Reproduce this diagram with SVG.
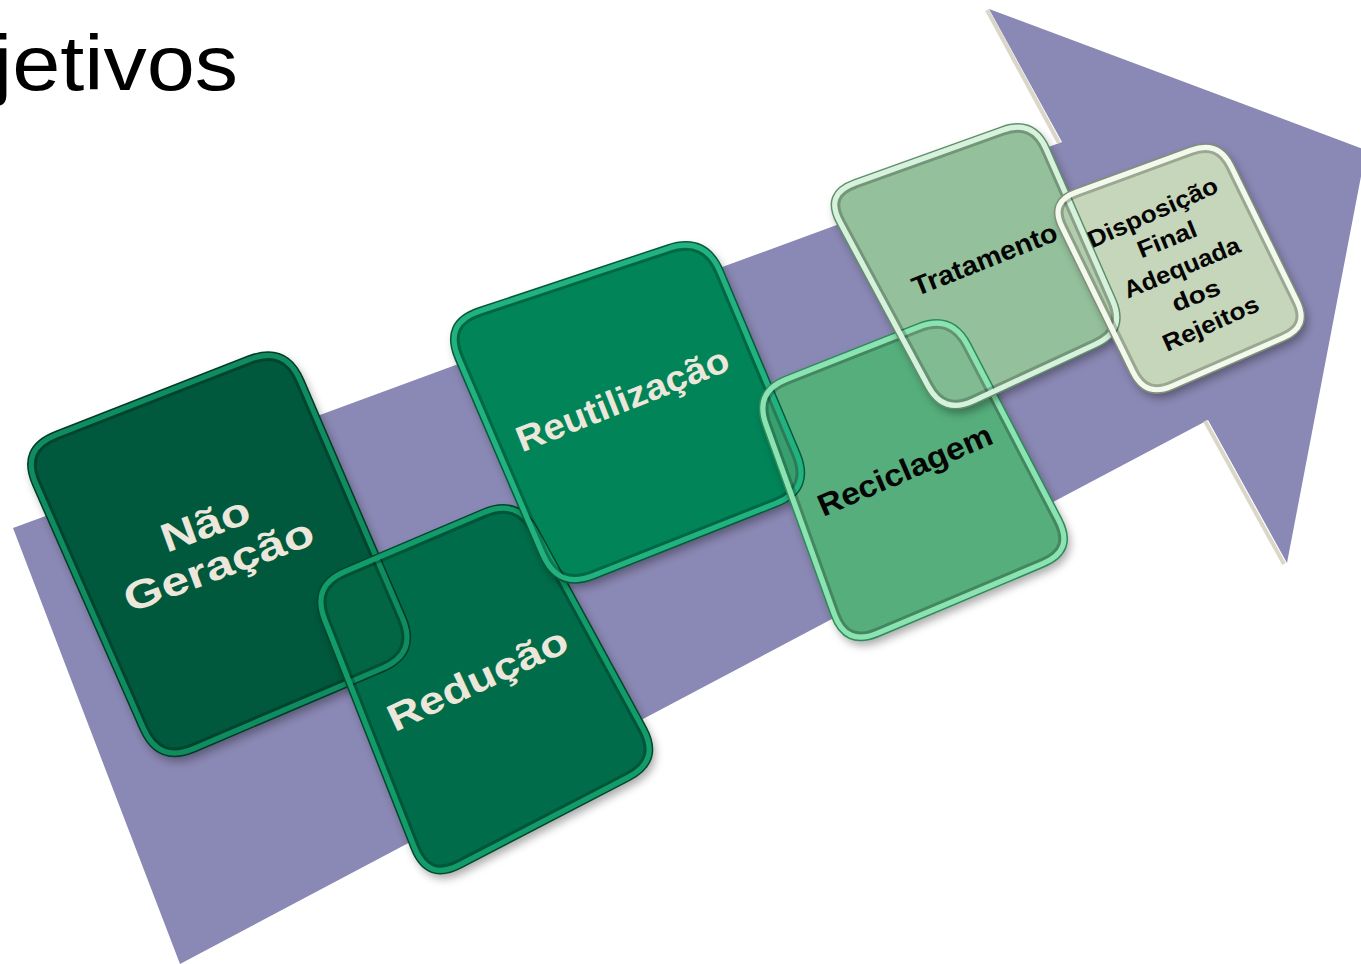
<svg xmlns="http://www.w3.org/2000/svg" xmlns:xlink="http://www.w3.org/1999/xlink" width="1361" height="964" viewBox="0 0 1361 964">
<style>
.t{font-family:"Liberation Sans",Arial,sans-serif;font-weight:bold;text-anchor:middle}
.lt{fill:#ECE7DA}
.bk{fill:#050505}
.sh{filter:url(#ds)}
.dl{fill:none;stroke:#000;stroke-opacity:.22;stroke-width:18}
.ol{fill:none;stroke-width:1.5}
.edge{stroke:#DAD6C8;stroke-width:4;fill:none}
</style>
<defs>
<filter id="ds" x="-15%" y="-15%" width="140%" height="140%"><feDropShadow dx="3" dy="5" stdDeviation="4" flood-color="#000" flood-opacity="0.33"/></filter>
<path id="p1" d="M55.1,431.7 L247.9,356.3 Q287,341 303.6,379.6 L405.4,616.4 Q422,655 383.4,671.5 L195.6,751.5 Q157,768 140.1,729.5 L32.9,485.5 Q16,447 55.1,431.7 Z"/>
<path id="p2" d="M343.8,568.4 L482.2,509.6 Q519,494 538.1,529.1 L645.9,726.9 Q665,762 629.5,780.4 L461.5,867.6 Q426,886 411.3,848.8 L321.7,621.2 Q307,584 343.8,568.4 Z"/>
<path id="p3" d="M478.9,307.8 L667.1,245.2 Q707,232 723.3,270.7 L799.7,452.3 Q816,491 777,506.5 L595,578.5 Q556,594 539.5,555.4 L455.5,359.6 Q439,321 478.9,307.8 Z"/>
<path id="p4" d="M785.4,376.1 L917.6,323.9 Q953,310 970.6,343.7 L1061.4,518.3 Q1079,552 1044,566.8 L879,636.2 Q844,651 831.1,615.2 L762.9,425.8 Q750,390 785.4,376.1 Z"/>
<path id="p5" d="M853.9,179.9 L1001.1,127.1 Q1035,115 1049.4,148 L1115.6,299 Q1130,332 1097.3,347.1 L974.7,403.9 Q942,419 925,387.3 L837,223.7 Q820,192 853.9,179.9 Z"/>
<path id="p6" d="M1075.1,189 L1189.9,147 Q1220,136 1234.1,164.7 L1299.9,299.3 Q1314,328 1284.7,340.8 L1173.3,389.2 Q1144,402 1129.9,373.3 L1059.1,228.7 Q1045,200 1075.1,189 Z"/>
<clipPath id="c1"><use href="#p1"/></clipPath>
<clipPath id="c2"><use href="#p2"/></clipPath>
<clipPath id="c3"><use href="#p3"/></clipPath>
<clipPath id="c4"><use href="#p4"/></clipPath>
<clipPath id="c5"><use href="#p5"/></clipPath>
<clipPath id="c6"><use href="#p6"/></clipPath>
<g id="r1"><use href="#p1" class="dl" clip-path="url(#c1)"/><use href="#p1" fill="none" stroke="#0F8D60" stroke-width="12" clip-path="url(#c1)"/><use href="#p1" class="ol" stroke="#033B27"/></g>
<g id="r2"><use href="#p2" class="dl" clip-path="url(#c2)"/><use href="#p2" fill="none" stroke="#129C6A" stroke-width="12" clip-path="url(#c2)"/><use href="#p2" class="ol" stroke="#04462F"/></g>
<g id="r3"><use href="#p3" class="dl" clip-path="url(#c3)"/><use href="#p3" fill="none" stroke="#22B27F" stroke-width="12" clip-path="url(#c3)"/><use href="#p3" class="ol" stroke="#055A3C"/></g>
<g id="r4"><use href="#p4" class="dl" clip-path="url(#c4)"/><use href="#p4" fill="none" stroke="#8BE3B2" stroke-width="12" clip-path="url(#c4)"/><use href="#p4" class="ol" stroke="#2F8A5A"/></g>
<g id="r5"><use href="#p5" class="dl" clip-path="url(#c5)"/><use href="#p5" fill="none" stroke="#D6F2DC" stroke-width="12" clip-path="url(#c5)"/><use href="#p5" class="ol" stroke="#5F8F6A"/></g>
<g id="r6"><use href="#p6" class="dl" clip-path="url(#c6)"/><use href="#p6" fill="none" stroke="#F4F9EE" stroke-width="12" clip-path="url(#c6)"/><use href="#p6" class="ol" stroke="#7F8F78"/></g>
</defs>

<rect width="1361" height="964" fill="#FFFFFF"/>

<g id="title">
<text x="-7" y="90" font-family="'Liberation Sans',Arial,sans-serif" font-size="78" fill="#000" textLength="245" lengthAdjust="spacingAndGlyphs">jetivos</text>
</g>

<g id="connectors">
<polygon points="13,528 1062,142 989,9 1366,150 1287,563 1208,420 180,964" fill="#8A88B4"/>
<line class="edge" x1="987" y1="10" x2="1059" y2="143"/>
<line class="edge" x1="1205" y1="421" x2="1284" y2="564"/>
</g>

<g id="n1">
<use href="#p1" fill="#05583C" class="sh"/>
<use href="#r1"/>
<text class="t lt" font-size="40" transform="translate(210,537) rotate(-20)" textLength="92" lengthAdjust="spacingAndGlyphs">Não</text>
<text class="t lt" font-size="40" transform="translate(223.5,578) rotate(-20.5)" textLength="200" lengthAdjust="spacingAndGlyphs">Geração</text>
</g>

<g id="n2">
<use href="#p2" fill="#036C4A" class="sh"/>
<g clip-path="url(#c2)"><use href="#p1" fill="#05583C" opacity=".3"/><use href="#r1"/></g>
<use href="#r2"/>
<text class="t lt" font-size="38" transform="translate(483,691) rotate(-25)" textLength="195" lengthAdjust="spacingAndGlyphs">Redução</text>
</g>

<g id="n3">
<use href="#p3" fill="#018459" class="sh"/>
<g clip-path="url(#c3)"><use href="#p2" fill="#036C4A" opacity=".3"/><use href="#r2"/></g>
<use href="#r3"/>
<text class="t lt" font-size="36" transform="translate(627,411) rotate(-21.6)" textLength="226" lengthAdjust="spacingAndGlyphs">Reutilização</text>
</g>

<g id="n4">
<use href="#p4" fill="#56AE7C" class="sh"/>
<g clip-path="url(#c4)"><use href="#p3" fill="#018459" opacity=".35"/><use href="#r3"/></g>
<use href="#r4"/>
<text class="t bk" font-size="31" transform="translate(909,480) rotate(-23.3)" textLength="187" lengthAdjust="spacingAndGlyphs">Reciclagem</text>
</g>

<g id="n5">
<use href="#p5" fill="#94C19C" class="sh"/>
<g clip-path="url(#c5)"><use href="#p4" fill="#56AE7C" opacity=".3"/><use href="#r4"/></g>
<use href="#r5"/>
<text class="t bk" font-size="27" transform="translate(988,268) rotate(-21.7)" textLength="154" lengthAdjust="spacingAndGlyphs">Tratamento</text>
</g>

<g id="n6">
<use href="#p6" fill="#C6D6BA" class="sh"/>
<g clip-path="url(#c6)"><use href="#p5" fill="#94C19C" opacity=".4"/><use href="#r5"/></g>
<use href="#r6"/>
<text class="t bk" font-size="24" transform="translate(1156,220) rotate(-24)" textLength="140" lengthAdjust="spacingAndGlyphs">Disposição</text>
<text class="t bk" font-size="24" transform="translate(1170,247) rotate(-22)" textLength="62" lengthAdjust="spacingAndGlyphs">Final</text>
<text class="t bk" font-size="24" transform="translate(1185,275) rotate(-22.5)" textLength="124" lengthAdjust="spacingAndGlyphs">Adequada</text>
<text class="t bk" font-size="24" transform="translate(1199,303) rotate(-22)" textLength="50" lengthAdjust="spacingAndGlyphs">dos</text>
<text class="t bk" font-size="24" transform="translate(1214,331) rotate(-24)" textLength="103" lengthAdjust="spacingAndGlyphs">Rejeitos</text>
</g>
</svg>
